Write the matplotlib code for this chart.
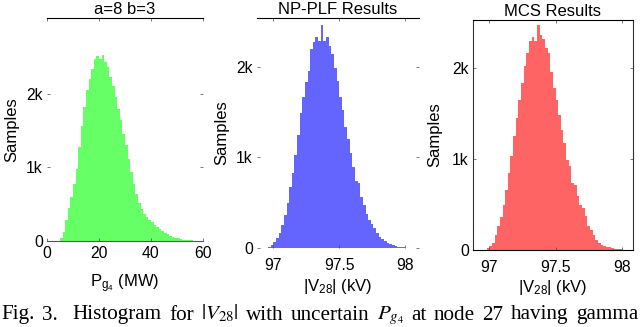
import numpy as np
import matplotlib
matplotlib.use("Agg")
import matplotlib.pyplot as plt

plt.rcParams['font.family'] = ['Liberation Sans', 'DejaVu Sans']
plt.rcParams['mathtext.fontset'] = 'custom'
plt.rcParams['mathtext.rm'] = 'Liberation Sans'
plt.rcParams['mathtext.it'] = 'Liberation Sans:italic'

# ---------------- data ----------------
titles = ["a=8 b=3", "NP-PLF Results", "MCS Results"]
xlabels = [r"P$_{\mathrm{g}_{4}}$ (MW)", r"|V$_{28}$| (kV)", r"|V$_{28}$| (kV)"]
ylabel = "Samples"

# Panel 1: gamma input P_g4, 1 MW bins from 5 to 57
pg_edges_start = 5
pg_bin = 1.0
pg_counts = [40, 120, 290, 450, 600, 780, 980, 1280, 1560, 1820,
             2050, 2200, 2340, 2470, 2510, 2470, 2530, 2430, 2360, 2230,
             2100, 1950, 1800, 1640, 1460, 1300, 1120, 940, 770, 640,
             520, 430, 370, 330, 290, 260, 220, 190, 160, 130,
             110, 90, 70, 55, 45, 35, 25, 20, 15, 10, 7, 4]

# Panels 2/3: |V28|, 0.02 kV bins from 96.96
v_edges_start = 96.96
v_bin = 0.02
nplf_counts = [10, 30, 65, 105, 165, 250, 360, 500, 670, 830,
               1030, 1250, 1490, 1670, 1830, 1960, 2200, 2280, 2330, 2290,
               2460, 2290, 2330, 2230, 2140, 1990, 1840, 1670, 1520, 1340,
               1200, 1050, 900, 740, 720, 560, 470, 380, 310, 260,
               220, 170, 120, 95, 75, 55, 40, 30, 22, 16, 11, 7, 4]
mcs_counts = [5, 20, 45, 80, 160, 260, 360, 500, 660, 850,
              1030, 1250, 1450, 1650, 1840, 2020, 2170, 2300, 2340, 2300,
              2470, 2370, 2320, 2220, 2170, 1960, 1780, 1650, 1490, 1320,
              1180, 990, 920, 740, 720, 590, 500, 460, 370, 260,
              220, 170, 110, 80, 55, 45, 38, 28, 20, 15, 10, 6, 3]

pg_xticks = [0, 20, 40, 60]
pg_xticklabels = ["0", "20", "40", "60"]
v_xticks = [97, 97.5, 98]
v_xticklabels = ["97", "97.5", "98"]
yticks = [0, 1000, 2000]
yticklabels = ["0", "1k", "2k"]

colors = ["#66ff66", "#6464ff", "#ff6464"]

caption_words = ["Fig.", "3.", "Histogram", "for", r"$|V_{28}|$", "with",
                 "uncertain", r"$P_{g_4}$", "at", "node", "27", "having", "gamma"]

# ---------------- figure ----------------
W, H = 640, 327
fig = plt.figure(figsize=(W / 100, H / 100), dpi=100)

def px_axes(l, r, t, b):
    return fig.add_axes([l / W, 1 - b / H, (r - l) / W, (b - t) / H])

ax1 = px_axes(47, 203, 18, 241)
ax2 = px_axes(257, 419, 18, 248)
ax3 = px_axes(473, 633, 20, 250)
axes = [ax1, ax2, ax3]

pg_edges = pg_edges_start + pg_bin * np.arange(len(pg_counts) + 1)
v_edges2 = v_edges_start + v_bin * np.arange(len(nplf_counts) + 1)
v_edges3 = v_edges_start + v_bin * np.arange(len(mcs_counts) + 1)

ax1.stairs(pg_counts, pg_edges, fill=True, color=colors[0], lw=0)
ax2.stairs(nplf_counts, v_edges2, fill=True, color=colors[1], lw=0)
ax3.stairs(mcs_counts, v_edges3, fill=True, color=colors[2], lw=0)

ax1.set_xlim(0, 60)
ax1.set_ylim(0, 3030)
ax2.set_xlim(96.876, 98.106)
ax2.set_ylim(0, 2540)
ax3.set_xlim(96.877, 98.085)
ax3.set_ylim(0, 2530)

ax1.set_xticks(pg_xticks, pg_xticklabels)
ax2.set_xticks(v_xticks, v_xticklabels)
ax3.set_xticks(v_xticks, v_xticklabels)

fs = 11.3
for i, ax in enumerate(axes):
    ax.set_yticks(yticks, yticklabels)
    ax.tick_params(direction='in', length=2.5, width=0.5, top=True, right=True,
                   labelsize=fs, pad=3, color='#444444')
    ax.set_title(titles[i], fontsize=12, pad=3)
    ax.set_ylabel(ylabel, fontsize=12)
    ax.set_xlabel(xlabels[i], fontsize=12, va='top')
    for s in ax.spines.values():
        s.set_linewidth(0.8)

ax1.tick_params(axis='x', pad=3.5)
ax2.tick_params(axis='x', pad=7.5)
ax3.tick_params(axis='x', pad=7.5)

# visible frame pieces as in the reference
ax1.spines['left'].set_visible(False)
ax1.spines['right'].set_visible(False)
ax1.spines['bottom'].set_color('#555555')
ax2.spines['left'].set_visible(False)
ax2.spines['right'].set_visible(False)
ax2.spines['bottom'].set_visible(False)
ax3.spines['left'].set_color('#333333')
ax3.spines['right'].set_color('#333333')

ax1.yaxis.set_label_coords(-0.18, 0.5)
ax2.yaxis.set_label_coords(-0.173, 0.5)
ax3.yaxis.set_label_coords(-0.194, 0.5)
ax1.xaxis.set_label_coords(0.5, -0.14)
ax2.xaxis.set_label_coords(0.5, -0.125)
ax3.xaxis.set_label_coords(0.5, -0.12)

# justified caption line (words spread across the full width)
texts = [fig.text(0, (H - 319.5) / H, w, fontsize=15.2,
                  family='Liberation Serif', math_fontfamily='stix',
                  ha='left', va='baseline') for w in caption_words]
fig.canvas.draw()
r = fig.canvas.get_renderer()
widths = [t.get_window_extent(r).width for t in texts]
gap_weights = [1.0] * (len(texts) - 1)
gap_weights[1] = 2.0  # wider space after "Fig. 3."
left_px, right_px = 1.0, 638.0
unit = (right_px - left_px - sum(widths)) / sum(gap_weights)
x = left_px
for i, t in enumerate(texts):
    t.set_x(x / W)
    if i < len(gap_weights):
        x += widths[i] + unit * gap_weights[i]

fig.savefig("out.png", dpi=100)
